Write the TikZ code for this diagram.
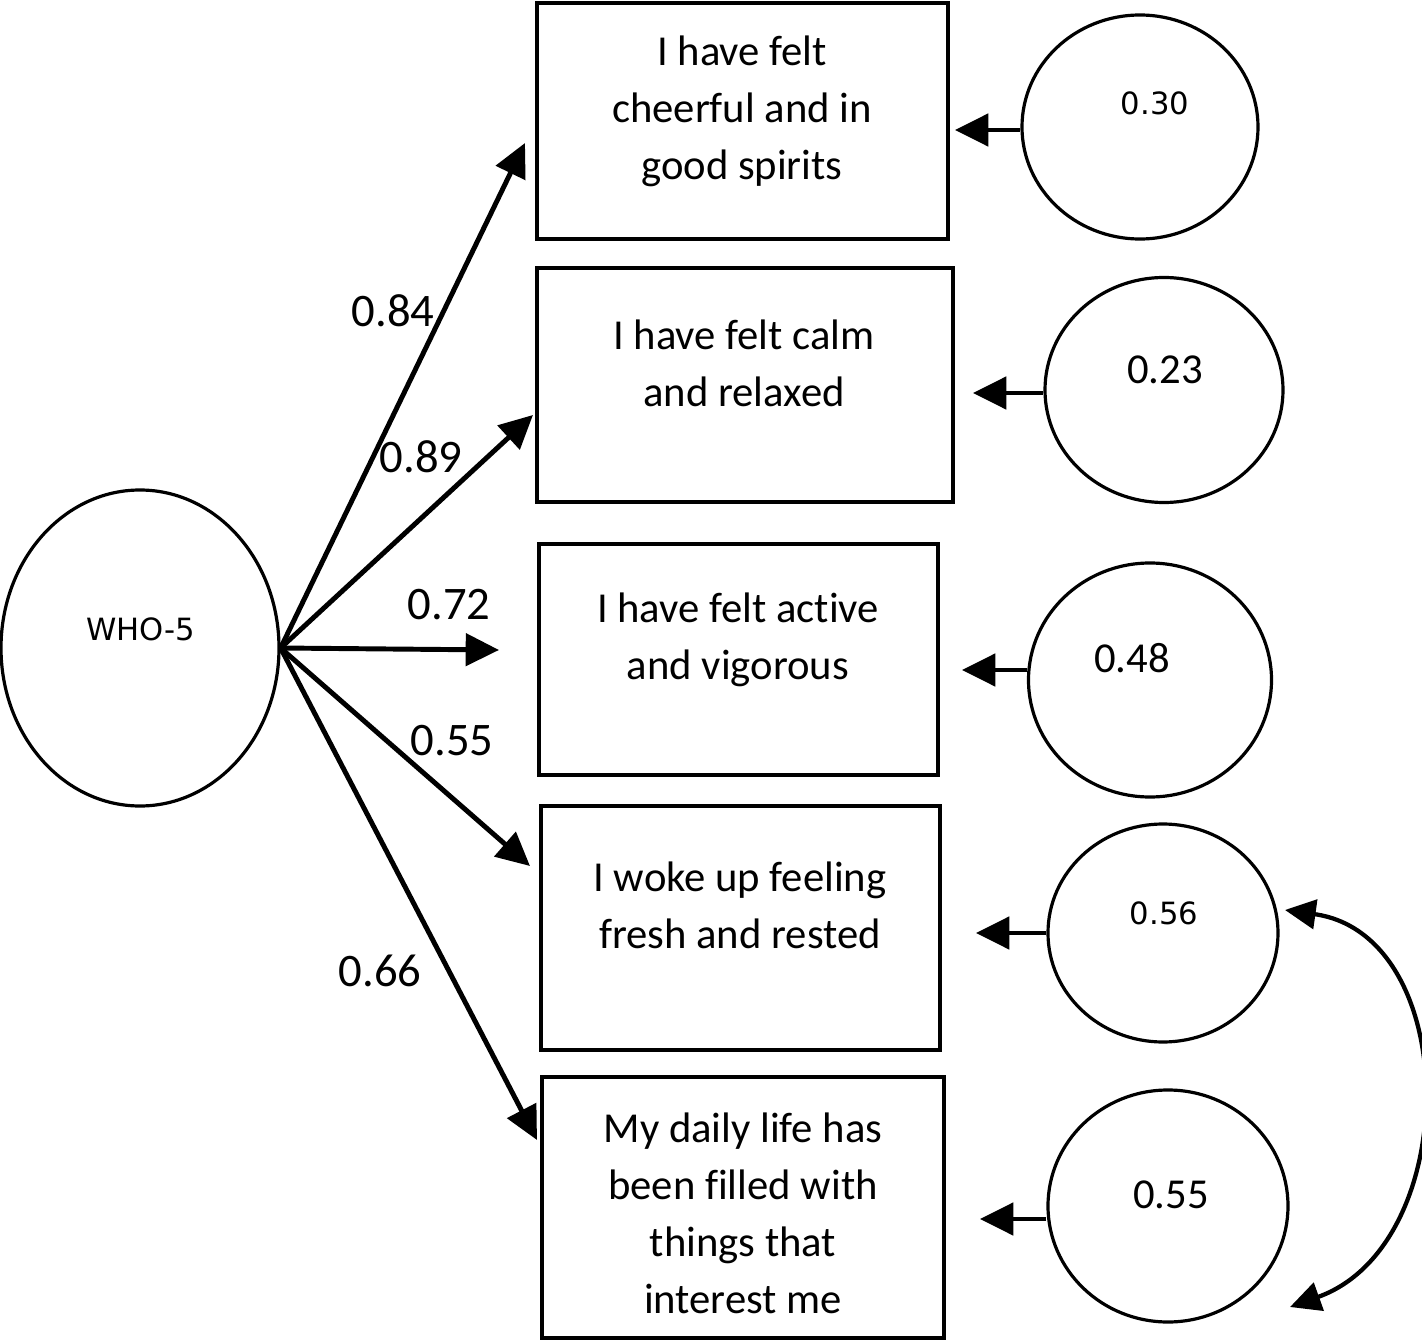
\documentclass[tikz,border=0pt]{standalone}
\usepackage{fontspec}
\setmainfont{Carlito}[Ligatures=NoCommon]
\newfontfamily\smallfont{DejaVu Sans}
\usetikzlibrary{arrows.meta,shapes.geometric}
\begin{document}
\begin{tikzpicture}[x=0.75pt,y=-0.75pt,
  boxnode/.style={draw,line width=2.6pt,rectangle,inner sep=0pt},
  ell/.style={draw,line width=2.4pt,ellipse,inner sep=0pt},
  boxtext/.style={align=center,font=\fontsize{32}{42.75}\selectfont,inner sep=0pt},
  coef/.style={font=\fontsize{35}{40}\selectfont,inner sep=0pt},
  errbig/.style={font=\fontsize{32}{38}\selectfont,inner sep=0pt},
  errsmall/.style={font=\smallfont\fontsize{23}{28}\selectfont,inner sep=0pt},
  arr/.style={line width=3.7pt,-{Triangle[length=25pt,width=24pt]}},
  dbl/.style={line width=3.2pt,{Triangle[length=23pt,width=22pt]}-{Triangle[length=23pt,width=22pt]}}]
\useasboundingbox (0,0) rectangle (1422,1341);

% latent factor
\node[ell,minimum width=0.75*278pt,minimum height=0.75*316pt] (who) at (140,648) {};
\node[errsmall] (whot) at (141,629) {WHO-5};

% item boxes
\node[boxnode,minimum width=0.75*411pt,minimum height=0.75*236pt] (b1) at (742.5,121) {};
\node[boxnode,minimum width=0.75*416pt,minimum height=0.75*234pt] (b2) at (745,385) {};
\node[boxnode,minimum width=0.75*399pt,minimum height=0.75*231pt] (b3) at (738.5,659.5) {};
\node[boxnode,minimum width=0.75*399pt,minimum height=0.75*244pt] (b4) at (740.5,928) {};
\node[boxnode,minimum width=0.75*402pt,minimum height=0.75*261pt] (b5) at (743,1207.5) {};

\node[boxtext] (t1) at (742,111) {I have felt\\cheerful and in\\good spirits};
\node[boxtext] (t2) at (744,363) {I have felt calm\\and relaxed};
\node[boxtext] (t3) at (738,640) {I have felt active\\and vigorous};
\node[boxtext] (t4) at (740,905) {I woke up feeling\\fresh and rested};
\node[boxtext] (t5) at (743,1213) {My daily life has\\been filled with\\things that\\interest me};

% error terms
\node[ell,minimum width=0.75*236pt,minimum height=0.75*224pt] (c1) at (1140,127) {};
\node[ell,minimum width=0.75*238pt,minimum height=0.75*225pt] (c2) at (1164,390) {};
\node[ell,minimum width=0.75*243pt,minimum height=0.75*234pt] (c3) at (1150,680) {};
\node[ell,minimum width=0.75*230pt,minimum height=0.75*218pt] (c4) at (1163,933) {};
\node[ell,minimum width=0.75*240pt,minimum height=0.75*232pt] (c5) at (1168,1206) {};

\node[errsmall] (e1) at (1155,103) {0.30};
\node[errbig] (e2) at (1165,370) {0.23};
\node[errbig] (e3) at (1132,658) {0.48};
\node[errsmall] (e4) at (1164,913) {0.56};
\node[errbig] (e5) at (1171,1195) {0.55};

% arrow tips
\coordinate (a1) at (525,143);
\coordinate (a2) at (533,415);
\coordinate (a3) at (499,650);
\coordinate (a4) at (530,866);
\coordinate (a5) at (537,1140);
\coordinate (h1) at (955,130);
\coordinate (h2) at (973,393);
\coordinate (h3) at (962,670);
\coordinate (h4) at (976,933);
\coordinate (h5) at (980,1219);
\coordinate (d1) at (1285,910);
\coordinate (d2) at (1290,1307);

% loadings
\foreach \t in {a1,a2,a3,a4,a5} \draw[arr] (who.east) -- (\t);
\node[coef] (l1) at (393,311) {0.84};
\node[coef] (l2) at (421,457) {0.89};
\node[coef] (l3) at (449,605) {0.72};
\node[coef] (l4) at (452,741) {0.55};
\node[coef] (l5) at (380,971) {0.66};

% error arrows
\draw[arr] (c1.west |- h1) -- (h1);
\draw[arr] (c2.west |- h2) -- (h2);
\draw[arr] (c3.west |- h3) -- (h3);
\draw[arr] (c4.west |- h4) -- (h4);
\draw[arr] (c5.west |- h5) -- (h5);

% covariance
\draw[dbl] (d1) .. controls (1463,935) and (1463,1245) .. (d2);
\end{tikzpicture}
\end{document}
